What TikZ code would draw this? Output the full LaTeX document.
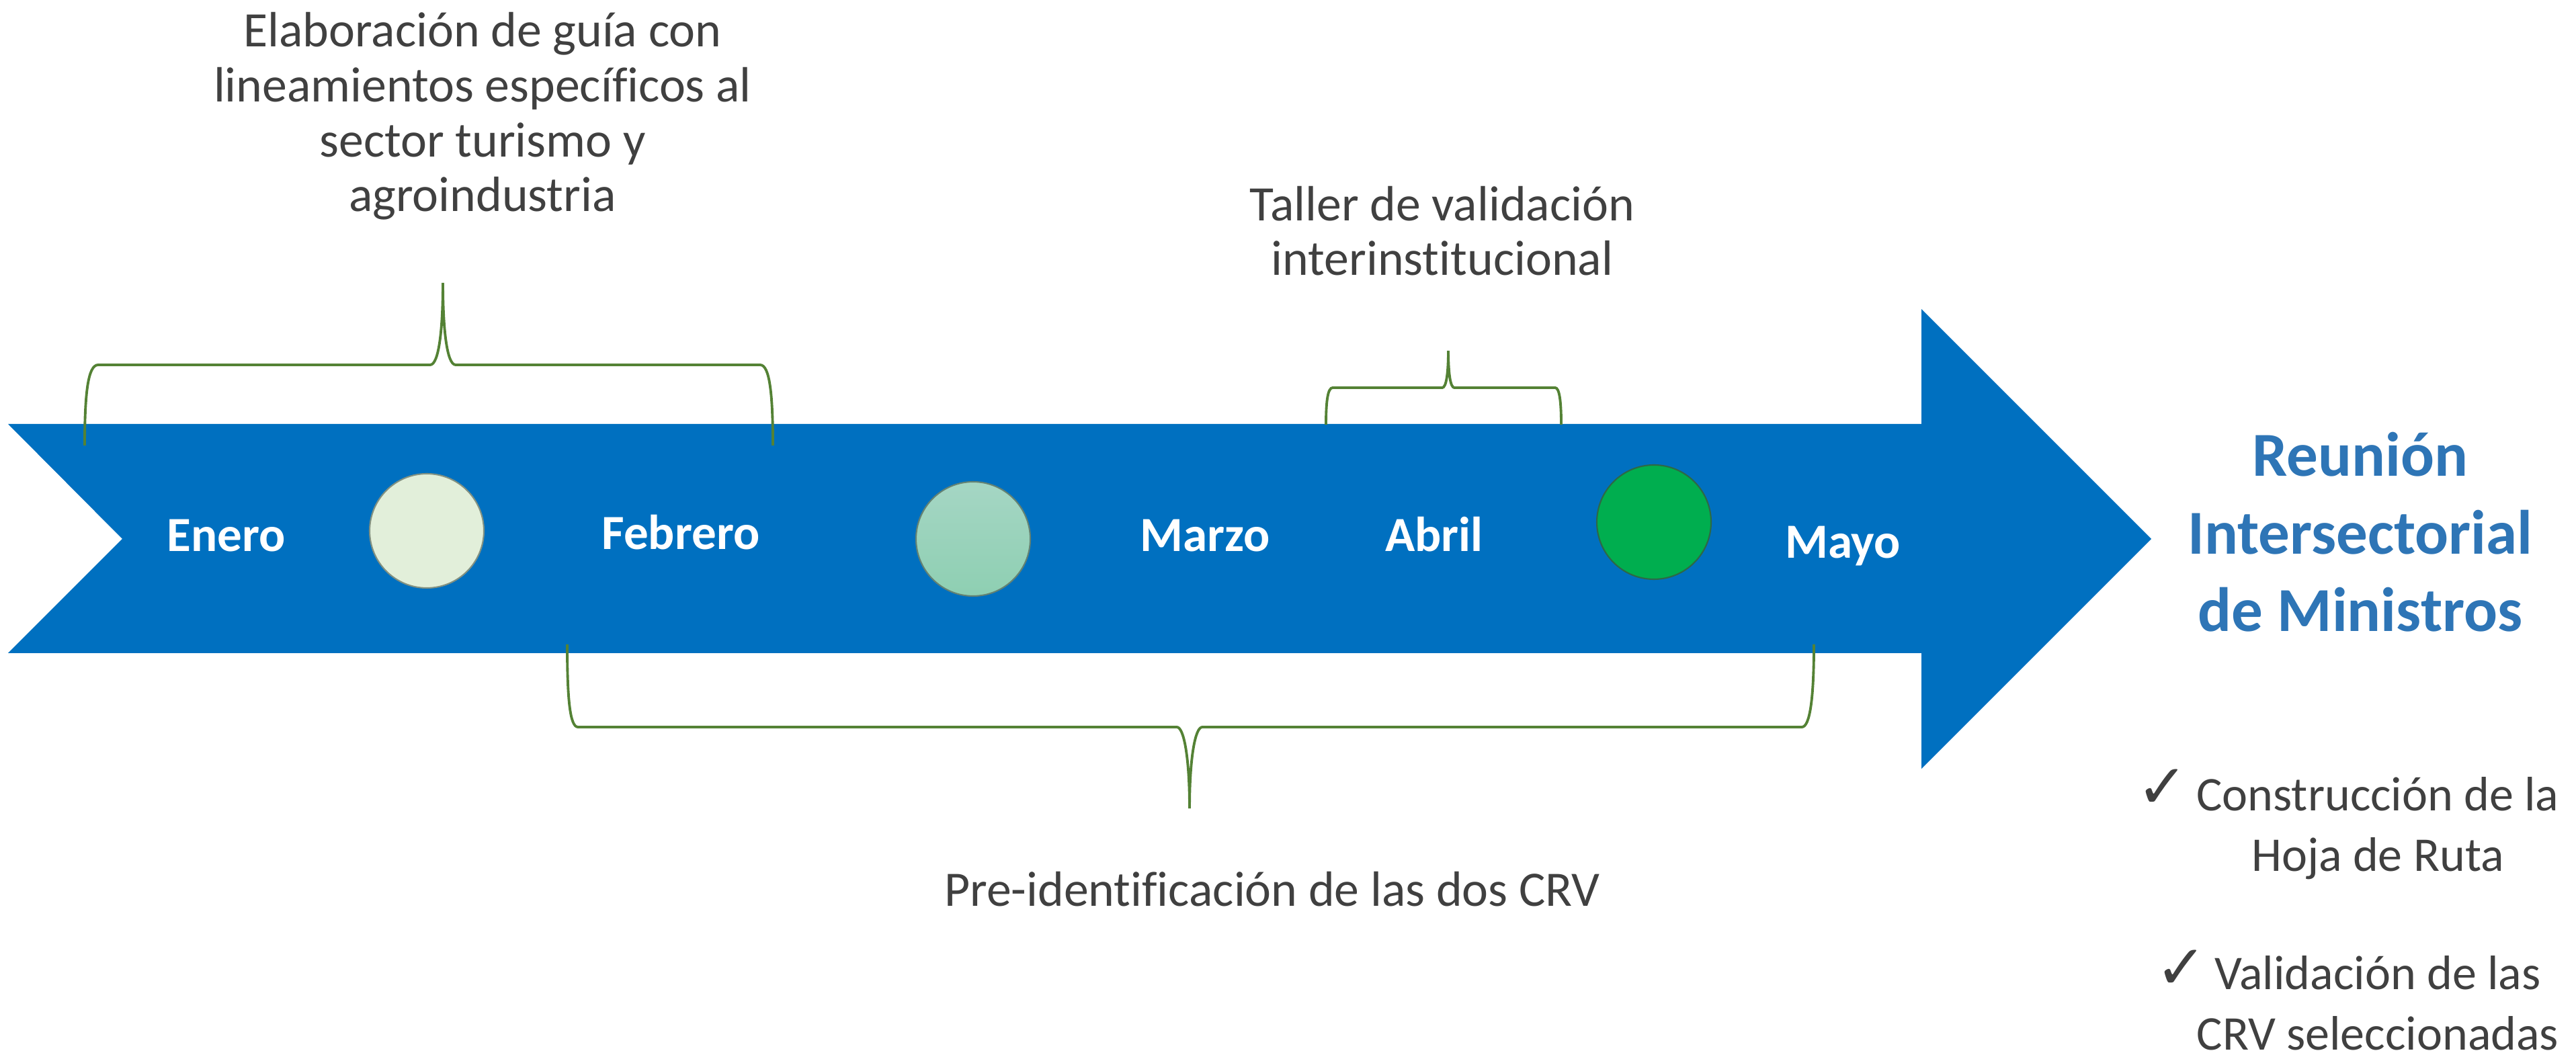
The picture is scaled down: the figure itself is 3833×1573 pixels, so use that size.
\documentclass[tikz,border=0pt]{standalone}
\usepackage{fontspec}
\setmainfont{Carlito}[Ligatures=NoCommon]
\newfontfamily\symfont{DejaVu Sans}
\usetikzlibrary{positioning}

\definecolor{arrowblue}{HTML}{0070C0}
\definecolor{bracegreen}{HTML}{548235}
\definecolor{textgray}{HTML}{404040}
\definecolor{titleblue}{HTML}{2E75B6}
\definecolor{dotone}{HTML}{E2EFDA}
\definecolor{dotthree}{HTML}{00AE4F}

\begin{document}
\begin{tikzpicture}[x=0.1mm, y=-0.1mm,
    month/.style={text=white, font=\fontsize{20.8}{24}\selectfont\bfseries, anchor=base, inner sep=0pt},
    note/.style={text=textgray, align=center, font=\fontsize{21}{23.25}\selectfont, anchor=base, inner sep=0pt},
    title/.style={text=titleblue, align=center, font=\fontsize{26.5}{33}\selectfont\bfseries, anchor=base, inner sep=0pt},
    item/.style={text=textgray, align=center, font=\fontsize{20.5}{25.6}\selectfont, anchor=base, inner sep=0pt},
    tick/.style={text=textgray, font=\symfont\fontsize{26}{30}\selectfont, anchor=base, inner sep=0pt},
    dot/.style={circle, minimum size=17mm, inner sep=0pt, line width=0.6pt},
    brace/.style={draw=bracegreen, line width=1.1pt}]

    \useasboundingbox (0,0) rectangle (3833,1573);

    % timeline arrow
    \fill[arrowblue] (12,631) -- (2859,631) -- (2859,460) -- (3201,802) -- (2859,1144)
        -- (2859,972) -- (12,972) -- (182,802) -- cycle;

    \node[dot, fill=dotone, draw={rgb,255:red,130;green,145;blue,130}] (dot1) at (635,790) {};
    \node[dot, top color={rgb,255:red,165;green,214;blue,196}, bottom color={rgb,255:red,142;green,207;blue,178},
        draw={rgb,255:red,100;green,130;blue,115}] (dot2) at (1448,802) {};
    \node[dot, fill=dotthree, draw={rgb,255:red,45;green,105;blue,70}] (dot3) at (2461,777) {};

    \node[month] (enero) at (337,821) {Enero};
    \node[month] (febrero) at (1013,818) {Febrero};
    \node[month] (marzo) at (1793,821) {Marzo};
    \node[month] (abril) at (2134,821) {Abril};
    \node[month] (mayo) at (2742,831) {Mayo};

    % braces
    \draw[brace] (126,663) .. controls (126,585) and (131,543) .. (146,543) -- (640,543)
        .. controls (653,543) and (659,490) .. (659,421)
        .. controls (659,490) and (665,543) .. (678,543) -- (1131,543)
        .. controls (1145,543) and (1150,585) .. (1150,663);
    \draw[brace] (1973,632) .. controls (1973,595) and (1976,577) .. (1983,577) -- (2146,577)
        .. controls (2152,577) and (2155,555) .. (2155,522)
        .. controls (2155,555) and (2158,577) .. (2164,577) -- (2314,577)
        .. controls (2320,577) and (2323,595) .. (2323,632);
    \draw[brace] (844,959) .. controls (844,1040) and (848,1082) .. (860,1082) -- (1751,1082)
        .. controls (1762,1082) and (1770,1130) .. (1770,1203)
        .. controls (1770,1130) and (1778,1082) .. (1789,1082) -- (2681,1082)
        .. controls (2693,1082) and (2699,1040) .. (2699,959);

    % texts (base = last line)
    \node[note] (guia) at (718,315) {Elaboración de guía con\\lineamientos específicos al\\sector turismo y\\agroindustria};
    \node[note] (taller) at (2146,410) {Taller de validación\\interinstitucional};
    \node[note] (preid) at (1893,1348) {Pre-identificación de las dos CRV};

    \node[title] (reunion) at (3512,940) {Reunión\\Intersectorial\\de Ministros};

    \node[item] (hoja) at (3538,1296) {Construcción de la\\Hoja de Ruta};
    \node[item] (seleccion) at (3538,1562) {Validación de las\\CRV seleccionadas};
    \node[tick] (tick1) at (3218,1203) {✓};
    \node[tick] (tick2) at (3246,1471) {✓};
\end{tikzpicture}
\end{document}
